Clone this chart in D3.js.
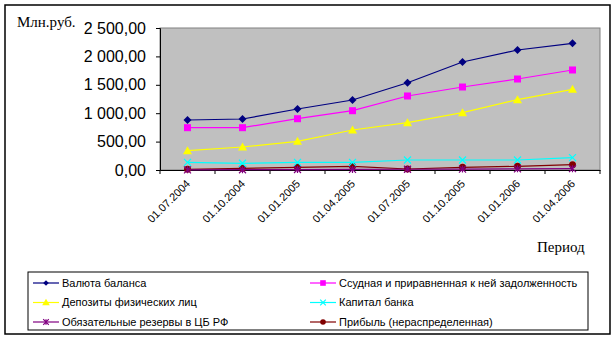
<!DOCTYPE html>
<html>
<head>
<meta charset="utf-8">
<script src="https://cdn.jsdelivr.net/npm/d3@7"></script>
<style>
  html, body { margin: 0; padding: 0; background: #fff; }
  svg { display: block; }
</style>
</head>
<body>
<svg id="chart" width="616" height="340"></svg>
<script>
// Quarterly balance-sheet indicators, mln roubles
const periods = ["01.07.2004", "01.10.2004", "01.01.2005", "01.04.2005",
                 "01.07.2005", "01.10.2005", "01.01.2006", "01.04.2006"];
const seriesNames = [
  "Валюта баланса",
  "Ссудная и приравненная к ней задолженность",
  "Депозиты физических лиц",
  "Капитал банка",
  "Обязательные резервы в ЦБ РФ",
  "Прибыль (нераспределенная)"
];
const balance   = [880, 898, 1074, 1232, 1537, 1901, 2113, 2230];
const loans     = [745, 745, 903, 1044, 1303, 1461, 1602, 1761];
const deposits  = [340, 405, 505, 704, 833, 1009, 1238, 1421];
const capital   = [135, 118, 135, 135, 176, 176, 176, 217];
const reserves  = [3, 5, 8, 10, 13, 16, 20, 24];
const profit    = [12, 30, 47, 65, 18, 47, 65, 94];
const yTicks    = [0, 500, 1000, 1500, 2000, 2500];

const colors  = ["#000080", "#FF00FF", "#FFFF00", "#00FFFF", "#800080", "#800000"];
const markers = ["diamond", "square", "triangle", "cross", "star", "circle"];
const values  = [balance, loans, deposits, capital, reserves, profit];

const svg = d3.select("#chart");

// outer frame
svg.append("rect").attr("x", 5).attr("y", 5).attr("width", 605).attr("height", 329)
  .attr("fill", "#fff").attr("stroke", "#000").attr("stroke-width", 1.5);

const plot = { left: 160, top: 28, right: 600, bottom: 170 };

const x = d3.scaleBand().domain(periods).range([plot.left, plot.right]);
const y = d3.scaleLinear().domain([0, 2500]).range([plot.bottom, plot.top]);

svg.append("rect")
  .attr("x", plot.left).attr("y", plot.top)
  .attr("width", plot.right - plot.left).attr("height", plot.bottom - plot.top)
  .attr("fill", "#C0C0C0").attr("stroke", "#808080").attr("stroke-width", 1);

const fmt = v => {
  const s = d3.format(",.2f")(v);
  return s.replace(/,/g, " ").replace(".", ",");
};

// y axis
const yAxis = svg.append("g").attr("transform", `translate(${plot.left},0)`)
  .call(d3.axisLeft(y).tickValues(yTicks).tickSize(4).tickPadding(10).tickFormat(fmt));
yAxis.select(".domain").attr("stroke", "#000");
yAxis.selectAll(".tick line").attr("stroke", "#000");
yAxis.selectAll("text").attr("font-family", "Arial, 'Liberation Sans', sans-serif")
  .attr("font-size", 16).attr("fill", "#000");

// x axis: ticks sit on category boundaries
const xAxis = svg.append("g").attr("transform", `translate(0,${plot.bottom})`)
  .call(d3.axisBottom(x).tickSize(0).tickFormat(""));
xAxis.select(".domain").attr("stroke", "#000");
const bounds = periods.map(p => x(p)).concat([plot.right]);
svg.append("g").selectAll("line").data(bounds).join("line")
  .attr("x1", d => d).attr("x2", d => d)
  .attr("y1", plot.bottom).attr("y2", plot.bottom + 4)
  .attr("stroke", "#000");
svg.append("g").selectAll("text").data(periods).join("text")
  .attr("transform", d => `translate(${x(d) + x.bandwidth() / 2 - 2},${plot.bottom + 9}) rotate(-45)`)
  .attr("text-anchor", "end").attr("dy", "0.7em")
  .attr("font-family", "Arial, 'Liberation Sans', sans-serif").attr("font-size", 11)
  .text(d => d);

// axis titles
svg.append("text").attr("x", 17).attr("y", 27)
  .attr("font-family", "'Times New Roman', 'Liberation Serif', serif").attr("font-size", 15)
  .text("Млн.руб.");
svg.append("text").attr("x", 537).attr("y", 252)
  .attr("font-family", "'Times New Roman', 'Liberation Serif', serif").attr("font-size", 15)
  .text("Период");

function drawMarker(g, type, color, size) {
  const s = size;
  switch (type) {
    case "diamond":
      g.append("path").attr("d", `M0,${-s}L${s},0L0,${s}L${-s},0Z`).attr("fill", color);
      break;
    case "square":
      g.append("rect").attr("x", -s).attr("y", -s).attr("width", 2 * s).attr("height", 2 * s).attr("fill", color);
      break;
    case "triangle":
      g.append("path").attr("d", `M0,${-s - 1}L${s + 1},${s}L${-s - 1},${s}Z`).attr("fill", color);
      break;
    case "cross":
      g.append("path").attr("d", `M${-s},${-s}L${s},${s}M${s},${-s}L${-s},${s}`)
        .attr("stroke", color).attr("stroke-width", 1.2).attr("fill", "none");
      break;
    case "star":
      g.append("path").attr("d", `M${-s},${-s}L${s},${s}M${s},${-s}L${-s},${s}M0,${-s}L0,${s}`)
        .attr("stroke", color).attr("stroke-width", 1.2).attr("fill", "none");
      break;
    case "circle":
      g.append("circle").attr("r", s).attr("fill", color);
      break;
  }
}

const line = d3.line().x((d, i) => x(periods[i]) + x.bandwidth() / 2).y(d => y(d));

// draw from the bottom series up so the top lines stay visible
const order = [5, 4, 3, 2, 1, 0];
order.forEach(k => {
  const g = svg.append("g");
  g.append("path").datum(values[k]).attr("d", line)
    .attr("fill", "none").attr("stroke", colors[k]).attr("stroke-width", 1.2);
  values[k].forEach((v, i) => {
    const m = g.append("g").attr("transform", `translate(${x(periods[i]) + x.bandwidth() / 2},${y(v)})`);
    drawMarker(m, markers[k], colors[k], k === 0 ? 4 : 3.5);
  });
});

// legend
const legend = svg.append("g");
legend.append("rect").attr("x", 28).attr("y", 272).attr("width", 560).attr("height", 58)
  .attr("fill", "#fff").attr("stroke", "#000").attr("stroke-width", 1);
seriesNames.forEach((name, k) => {
  const col = k % 2, row = Math.floor(k / 2);
  const lx = col === 0 ? 33 : 310;
  const ly = 283 + row * 19.5;
  const g = legend.append("g");
  g.append("line").attr("x1", lx).attr("x2", lx + 26).attr("y1", ly).attr("y2", ly)
    .attr("stroke", colors[k]).attr("stroke-width", 1.2);
  const m = g.append("g").attr("transform", `translate(${lx + 13},${ly})`);
  drawMarker(m, markers[k], colors[k], 2.8);
  g.append("text").attr("x", lx + 29).attr("y", ly).attr("dy", "0.35em")
    .attr("font-family", "Arial, 'Liberation Sans', sans-serif").attr("font-size", 11)
    .text(name);
});
</script>
</body>
</html>
